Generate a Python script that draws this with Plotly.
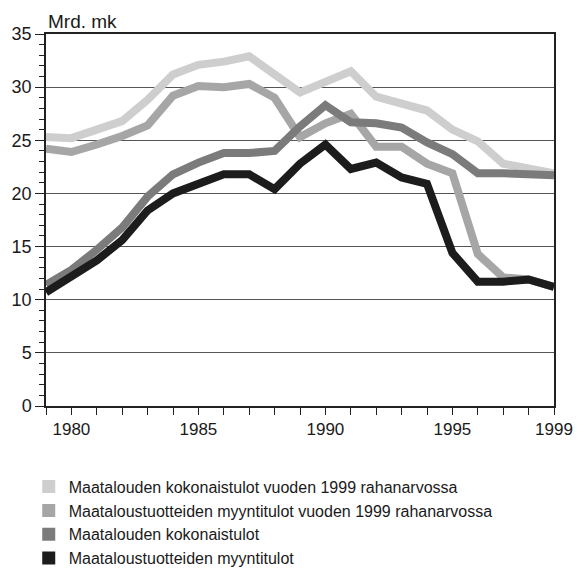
import plotly.graph_objects as go

years = list(range(1979, 2000))

# Mrd. mk
kokonais_1999 = [25.3, 25.2, 26.0, 26.8, 28.8, 31.2, 32.1, 32.4, 32.9, 31.3, 29.5,
                 30.5, 31.5, 29.1, 28.5, 27.8, 26.0, 24.9, 22.8, 22.4, 21.9]
myynti_1999 = [24.2, 23.9, 24.6, 25.4, 26.4, 29.2, 30.1, 30.0, 30.3, 29.0, 25.3,
               26.6, 27.5, 24.4, 24.4, 22.8, 21.9, 14.3, 12.1, 11.9, 11.2]
kokonais = [11.4, 12.8, 14.7, 16.8, 19.7, 21.8, 22.9, 23.8, 23.8, 24.0, 26.3,
            28.3, 26.7, 26.6, 26.2, 24.8, 23.7, 21.9, 21.9, 21.8, 21.7]
myynti = [10.7, 12.2, 13.7, 15.6, 18.4, 20.0, 21.0, 21.8, 21.8, 20.4, 22.8,
          24.6, 22.3, 22.9, 21.5, 20.9, 14.4, 11.7, 11.7, 11.9, 11.2]

names = ["Maatalouden kokonaistulot vuoden 1999 rahanarvossa",
         "Maataloustuotteiden myyntitulot vuoden 1999 rahanarvossa",
         "Maatalouden kokonaistulot",
         "Maataloustuotteiden myyntitulot"]
colors = ["#cecece", "#a6a6a6", "#7b7b7b", "#1c1c1c"]
series = [kokonais_1999, myynti_1999, kokonais, myynti]

label_years = [1980, 1985, 1990, 1995, 1999]
font = "Liberation Sans, Arial, sans-serif"

fig = go.Figure()
for vals, c in zip(series, colors):
    fig.add_trace(go.Scatter(x=years, y=vals, mode="lines",
                             line=dict(color=c, width=8), showlegend=False,
                             hoverinfo="skip"))
# square swatches for the legend
for n, c in zip(names, colors):
    fig.add_trace(go.Scatter(x=[None], y=[None], mode="markers", name=n,
                             marker=dict(symbol="square", size=13, color=c)))

# page body has an 8px margin, so the figure is a little smaller than the window
fig.update_layout(
    width=576, height=561,
    margin=dict(l=38, r=30, t=26, b=163, autoexpand=False),
    paper_bgcolor="white", plot_bgcolor="white",
    font=dict(family=font, size=17, color="#1a1a1a"),
    xaxis=dict(range=[1979, 1999], tickvals=years,
               ticktext=[str(y) if y in label_years else "" for y in years],
               ticks="outside", ticklen=7, tickwidth=1, tickcolor="#222",
               showline=True, linecolor="#222", linewidth=1.5, mirror=True,
               showgrid=False, zeroline=False, tickfont=dict(size=17)),
    xaxis2=dict(range=[1979, 1999], overlaying="x", anchor="y", side="bottom",
                dtick=1, tick0=1979, ticks="inside", ticklen=7, tickwidth=1,
                tickcolor="#222", showticklabels=False, showgrid=False,
                showline=False, zeroline=False),
    yaxis=dict(range=[0, 35], dtick=5, ticks="outside", ticklen=9, tickwidth=1,
               tickcolor="#222", showline=True, linecolor="#222", linewidth=1.5,
               mirror=True, showgrid=True, gridcolor="#555", gridwidth=1,
               zeroline=False, tickfont=dict(size=18),
               minor=dict(dtick=1, ticks="outside", ticklen=5, tickcolor="#222",
                          showgrid=False)),
    legend=dict(xref="container", yref="container", x=0.036, y=0.177,
                xanchor="left", yanchor="top", font=dict(size=16),
                bgcolor="rgba(0,0,0,0)", itemclick=False),
    annotations=[dict(text="Mrd. mk", xref="paper", yref="paper", x=0, y=1,
                      xanchor="left", yanchor="bottom", showarrow=False,
                      font=dict(size=19))],
)

fig.write_html("out.html")
